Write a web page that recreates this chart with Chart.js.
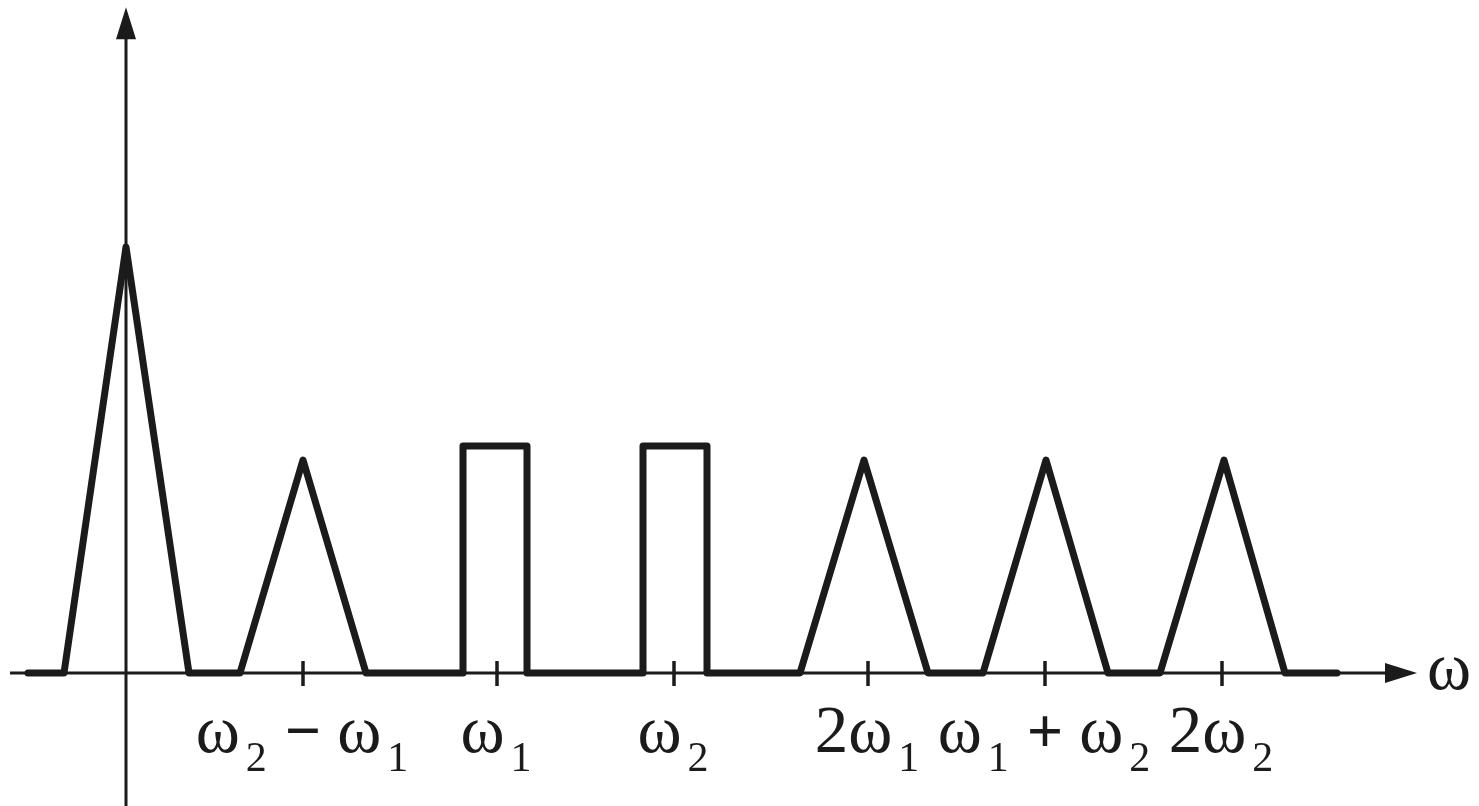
<!DOCTYPE html>
<html>
<head>
<meta charset="utf-8">
<title>Spectrum</title>
<script src="https://cdn.jsdelivr.net/npm/chart.js@4"></script>
<style>
  html, body { margin: 0; padding: 0; background: #fff; }
  #spectrum { display: block; }
</style>
</head>
<body>
<canvas id="spectrum" width="1479" height="806"></canvas>
<script>
// frequency axis (arbitrary units), origin at w = 0
var w1 = 3.71;
var w2 = 5.48;

// spectrum outline: corners of the polyline, left to right
var specX = [-0.98, -0.62, 0, 0.63, 1.14, 1.77, 2.40, 3.37, 3.37, 4.01, 4.01, 5.17, 5.17, 5.81, 5.81, 6.74, 7.38, 8.02, 8.57, 9.20, 9.82, 10.34, 10.98, 11.59, 12.11];
var specY = [0, 0, 2.0, 0, 0, 1.0, 0, 0, 1.066, 1.066, 0, 0, 1.066, 1.066, 0, 0, 1.0, 0, 0, 1.0, 0, 0, 1.0, 0, 0];

// tick marks on the w axis and their labels ("_" = subscript digit)
var tickValues = [w2 - w1, w1, w2, 2 * w1, w1 + w2, 2 * w2];
var tickLabels = ['ω_2 − ω_1', 'ω_1', 'ω_2', '2ω_1', 'ω_1 + ω_2', '2ω_2'];
var axisTitle = 'ω';

// axis extents
var xAxisFrom = -1.16, xAxisTo = 12.91;
var yAxisFrom = -0.63, yAxisTo = 3.126;

var ink = '#1b1b1b';
var serif = '"Liberation Serif", "Times New Roman", serif';
var mainFont = '67px ' + serif;
var opFont = 'bold 64px ' + serif;
var subFont = '42px ' + serif;

var points = [];
for (var i = 0; i < specX.length; i++) {
    points.push({ x: specX[i], y: specY[i] });
}

// split "ω_2 − ω_1" into normal/operator/subscript pieces
function splitLabel(s) {
    var parts = [];
    var buf = '';
    function flush() {
        if (buf) parts.push({ t: buf, kind: /[+−]/.test(buf) ? 'op' : 'main' });
        buf = '';
    }
    for (var i = 0; i < s.length; i++) {
        if (s[i] == '_') {
            flush();
            parts.push({ t: s[i + 1], kind: 'sub' });
            i++;
        } else if (s[i] == 'ω' && buf.trim() != '' && /[+−]/.test(buf)) {
            flush();
            buf = 'ω';
        } else {
            buf += s[i];
        }
    }
    flush();
    return parts;
}

function fontFor(kind) {
    if (kind == 'sub') return subFont;
    if (kind == 'op') return opFont;
    return mainFont;
}

function arrowHead(ctx, tipX, tipY, dir) {
    // dir: 'up' or 'right', 32 long, 20 wide
    ctx.beginPath();
    if (dir == 'up') {
        ctx.moveTo(tipX, tipY);
        ctx.lineTo(tipX - 10, tipY + 32);
        ctx.lineTo(tipX + 10, tipY + 32);
    } else {
        ctx.moveTo(tipX, tipY);
        ctx.lineTo(tipX - 32, tipY - 10);
        ctx.lineTo(tipX - 32, tipY + 10);
    }
    ctx.closePath();
    ctx.fill();
}

var axesPlugin = {
    id: 'axesPlugin',
    beforeDatasetsDraw: function (chart) {
        var ctx = chart.ctx;
        var xs = chart.scales.x, ys = chart.scales.y;
        var x0 = xs.getPixelForValue(0), y0 = ys.getPixelForValue(0);
        ctx.save();
        ctx.strokeStyle = ink;
        ctx.fillStyle = ink;
        ctx.lineWidth = 3;

        // horizontal axis
        var xEnd = xs.getPixelForValue(xAxisTo);
        ctx.beginPath();
        ctx.moveTo(xs.getPixelForValue(xAxisFrom), y0);
        ctx.lineTo(xEnd - 20, y0);
        ctx.stroke();
        arrowHead(ctx, xEnd, y0, 'right');

        // vertical axis
        var yEnd = ys.getPixelForValue(yAxisTo);
        ctx.beginPath();
        ctx.moveTo(x0, ys.getPixelForValue(yAxisFrom));
        ctx.lineTo(x0, yEnd + 20);
        ctx.stroke();
        arrowHead(ctx, x0, yEnd, 'up');

        // ticks
        ctx.lineWidth = 3.5;
        tickValues.forEach(function (v) {
            var px = xs.getPixelForValue(v);
            ctx.beginPath();
            ctx.moveTo(px, y0 - 12);
            ctx.lineTo(px, y0 + 13);
            ctx.stroke();
        });
        ctx.restore();
    },
    afterDatasetsDraw: function (chart) {
        var ctx = chart.ctx;
        var xs = chart.scales.x, ys = chart.scales.y;
        var y0 = ys.getPixelForValue(0);
        ctx.save();
        ctx.fillStyle = ink;
        ctx.textBaseline = 'alphabetic';
        ctx.textAlign = 'left';

        tickLabels.forEach(function (lbl, k) {
            var parts = splitLabel(lbl);
            var total = 0;
            parts.forEach(function (p) {
                ctx.font = fontFor(p.kind);
                p.w = ctx.measureText(p.t).width + (p.kind == 'sub' ? 8 : 0);
                total += p.w;
            });
            var x = xs.getPixelForValue(tickValues[k]) - total / 2;
            parts.forEach(function (p) {
                ctx.font = fontFor(p.kind);
                if (p.kind == 'sub') {
                    ctx.fillText(p.t, x + 6, y0 + 98);
                } else {
                    ctx.fillText(p.t, x, y0 + 79);
                }
                x += p.w;
            });
        });

        // axis name at the arrow tip
        ctx.font = mainFont;
        ctx.fillText(axisTitle, xs.getPixelForValue(xAxisTo) + 10, y0 + 16);
        ctx.restore();
    }
};

var ctx = document.getElementById('spectrum').getContext('2d');
var chart = new Chart(ctx, {
    type: 'scatter',
    data: {
        datasets: [{
            label: 'spectrum',
            data: points,
            showLine: true,
            borderColor: ink,
            borderWidth: 7,
            borderJoinStyle: 'round',
            borderCapStyle: 'round',
            pointRadius: 0,
            tension: 0,
            clip: false
        }]
    },
    options: {
        responsive: false,
        animation: false,
        devicePixelRatio: 1,
        layout: { padding: 0 },
        plugins: {
            legend: { display: false },
            tooltip: { enabled: false }
        },
        scales: {
            x: { type: 'linear', min: -1.26, max: 13.53, display: false },
            y: { type: 'linear', min: -0.6244, max: 3.1596, display: false }
        }
    },
    plugins: [axesPlugin]
});
</script>
</body>
</html>
